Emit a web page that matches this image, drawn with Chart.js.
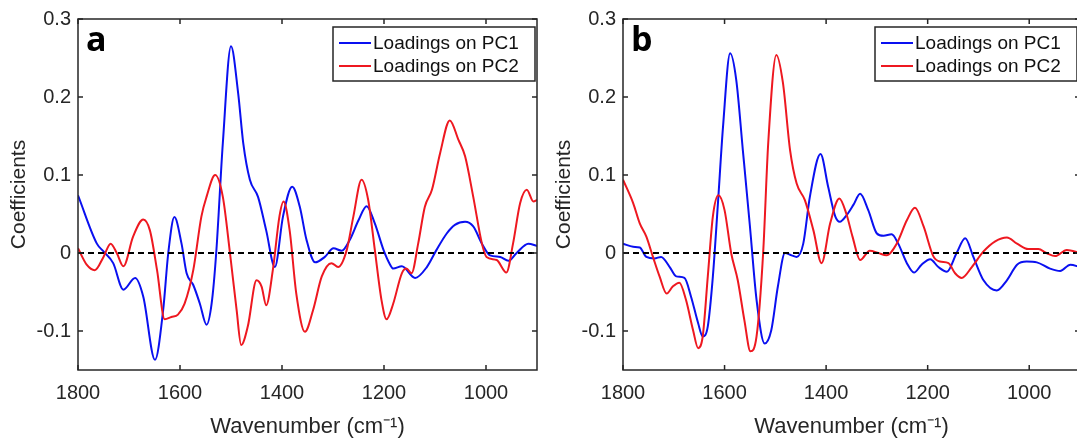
<!DOCTYPE html>
<html>
<head>
<meta charset="utf-8">
<script src="https://cdn.jsdelivr.net/npm/chart.js@4.4.1/dist/chart.umd.min.js"></script>
<style>
	html, body { margin: 0; padding: 0; background: #fff; overflow: hidden; }
	body { width: 1077px; height: 440px; position: relative; }
	.panel { position: absolute; top: 0; height: 440px; }
	#wrapA { left: 0; width: 545px; }
	#wrapB { left: 545px; width: 545px; }
</style>
</head>
<body>
<div class="panel" id="wrapA"><canvas id="chartA" width="545" height="440"></canvas></div>
<div class="panel" id="wrapB"><canvas id="chartB" width="545" height="440"></canvas></div>
<script>
// axis ticks
const xTicks = [1800, 1600, 1400, 1200, 1000]
const yTicks = [-0.1, 0, 0.1, 0.2, 0.3]
const legendLabels = ['Loadings on PC1', 'Loadings on PC2']
const zeroWn = [1800, 900]
const zeroVal = [0, 0]

// panel a - PC1
const aWn1 = [1800, 1763, 1750, 1731, 1711, 1688, 1672, 1649, 1633, 1623, 1611, 1597, 1587, 1574, 1561, 1548, 1538, 1529, 1516, 1500, 1486, 1476, 1463, 1447, 1431, 1414, 1398, 1380, 1365, 1352, 1335, 1316, 1299, 1283, 1267, 1250, 1234, 1218, 1201, 1188, 1182, 1165, 1139, 1116, 1097, 1077, 1061, 1041, 1025, 1008, 992, 972, 956, 940, 917, 900]
const aPc1 = [0.074, 0.012, 0.002, -0.013, -0.047, -0.032, -0.056, -0.137, -0.073, 0, 0.046, 0.012, -0.026, -0.041, -0.065, -0.092, -0.065, 0, 0.141, 0.265, 0.205, 0.141, 0.094, 0.072, 0.029, -0.018, 0.047, 0.085, 0.059, 0.017, -0.012, -0.005, 0.006, 0.003, 0.017, 0.042, 0.060, 0.038, 0.004, -0.015, -0.020, -0.017, -0.032, -0.018, 0.004, 0.025, 0.036, 0.040, 0.034, 0.012, -0.003, -0.005, -0.010, 0, 0.012, 0.009]

// panel a - PC2
const aWn2 = [1800, 1783, 1767, 1750, 1736, 1724, 1711, 1692, 1672, 1659, 1645, 1630, 1617, 1604, 1591, 1574, 1558, 1548, 1531, 1516, 1502, 1489, 1480, 1467, 1450, 1440, 1431, 1418, 1405, 1397, 1385, 1372, 1355, 1339, 1322, 1303, 1290, 1273, 1260, 1244, 1231, 1218, 1205, 1195, 1182, 1165, 1156, 1146, 1133, 1120, 1106, 1090, 1071, 1054, 1041, 1025, 1008, 999, 979, 960, 947, 933, 920, 907, 900]
const aPc2 = [0.006, -0.015, -0.022, -0.005, 0.012, 0, -0.017, 0.021, 0.043, 0.029, -0.022, -0.085, -0.082, -0.079, -0.065, -0.022, 0.047, 0.072, 0.100, 0.072, 0, -0.073, -0.118, -0.094, -0.035, -0.043, -0.067, -0.022, 0.047, 0.066, 0.029, -0.052, -0.101, -0.073, -0.030, -0.013, -0.018, 0.004, 0.047, 0.094, 0.068, 0.004, -0.060, -0.085, -0.065, -0.026, -0.020, -0.026, 0.012, 0.059, 0.081, 0.128, 0.170, 0.145, 0.124, 0.072, 0.012, -0.005, -0.009, -0.025, 0.012, 0.064, 0.081, 0.066, 0.068]

// panel b - PC1
const bWn1 = [1800, 1780, 1767, 1754, 1738, 1725, 1708, 1695, 1679, 1666, 1652, 1643, 1633, 1623, 1613, 1603, 1589, 1577, 1564, 1550, 1537, 1521, 1508, 1495, 1481, 1468, 1458, 1445, 1432, 1411, 1396, 1382, 1373, 1359, 1346, 1333, 1317, 1300, 1287, 1271, 1258, 1241, 1227, 1212, 1195, 1179, 1162, 1143, 1126, 1110, 1090, 1064, 1044, 1024, 1005, 985, 959, 939, 919, 900]
const bPc1 = [0.012, 0.008, 0.007, -0.005, -0.007, -0.005, -0.018, -0.030, -0.032, -0.056, -0.090, -0.107, -0.094, -0.030, 0.064, 0.162, 0.256, 0.222, 0.132, 0.034, -0.060, -0.116, -0.099, -0.043, 0, -0.003, -0.005, 0.012, 0.072, 0.127, 0.085, 0.047, 0.040, 0.049, 0.062, 0.076, 0.055, 0.025, 0.022, 0.024, 0.012, -0.013, -0.025, -0.015, -0.008, -0.018, -0.024, 0, 0.019, -0.005, -0.035, -0.048, -0.035, -0.015, -0.011, -0.012, -0.020, -0.023, -0.015, -0.018]

// panel b - PC2
const bWn2 = [1800, 1780, 1767, 1754, 1741, 1728, 1714, 1702, 1689, 1676, 1662, 1652, 1643, 1633, 1623, 1612, 1600, 1587, 1574, 1561, 1549, 1537, 1524, 1514, 1498, 1485, 1471, 1458, 1442, 1425, 1409, 1392, 1374, 1360, 1348, 1333, 1314, 1297, 1281, 1261, 1241, 1225, 1208, 1189, 1176, 1159, 1146, 1133, 1113, 1090, 1067, 1044, 1024, 1002, 982, 966, 949, 926, 900]
const bPc2 = [0.094, 0.064, 0.038, 0.021, -0.005, -0.030, -0.052, -0.043, -0.038, -0.060, -0.099, -0.122, -0.107, -0.030, 0.047, 0.074, 0.055, 0, -0.035, -0.086, -0.126, -0.107, 0, 0.141, 0.254, 0.218, 0.132, 0.089, 0.068, 0.029, -0.013, 0.038, 0.070, 0.050, 0.021, -0.009, 0.003, 0, -0.003, 0.012, 0.042, 0.058, 0.034, -0.004, -0.011, -0.013, -0.026, -0.032, -0.018, 0.002, 0.015, 0.020, 0.012, 0.005, 0.005, 0, -0.004, 0.004, 0]

const axisColor = '#262626'
const blue = '#0a10f0'
const red = '#ee1820'

const toPoints = (xs, ys) => xs.map((x, i) => ({ x: x, y: ys[i] }))

//frame, inward ticks, legend and panel letter
const framePlugin = {
	id: 'frame',
	afterDatasetsDraw(chart, args, opts) {
		const { ctx, chartArea: a, scales } = chart
		const tl = 5
		ctx.save()
		ctx.strokeStyle = axisColor
		ctx.lineWidth = 1.5
		ctx.strokeRect(a.left, a.top, a.right - a.left, a.bottom - a.top)

		ctx.beginPath()
		for (const v of xTicks) {
			const px = scales.x.getPixelForValue(v)
			ctx.moveTo(px, a.bottom)
			ctx.lineTo(px, a.bottom - tl)
			ctx.moveTo(px, a.top)
			ctx.lineTo(px, a.top + tl)
		}
		for (const v of yTicks) {
			const py = scales.y.getPixelForValue(v)
			ctx.moveTo(a.left, py)
			ctx.lineTo(a.left + tl, py)
			ctx.moveTo(a.right, py)
			ctx.lineTo(a.right - tl, py)
		}
		ctx.stroke()

		//legend box
		const items = chart.data.datasets.filter(ds => ds.label)
		const w = 202
		const h = 54
		const bx = a.right - opts.legendRight - w
		const by = a.top + 8
		ctx.fillStyle = '#fff'
		ctx.fillRect(bx, by, w, h)
		ctx.lineWidth = 1.5
		ctx.strokeRect(bx, by, w, h)
		ctx.font = '19px "Liberation Sans", Arial, sans-serif'
		ctx.textBaseline = 'middle'
		items.forEach((ds, i) => {
			const ly = by + 16 + i * 23
			ctx.strokeStyle = ds.borderColor
			ctx.lineWidth = 2
			ctx.beginPath()
			ctx.moveTo(bx + 6, ly)
			ctx.lineTo(bx + 38, ly)
			ctx.stroke()
			ctx.fillStyle = '#111'
			ctx.fillText(ds.label, bx + 40, ly + 1)
		})

		//panel letter
		ctx.fillStyle = '#000'
		ctx.font = 'bold 34px "Open Sans", "DejaVu Sans", sans-serif'
		ctx.textBaseline = 'alphabetic'
		ctx.fillText(opts.letter, a.left + 8, a.top + 32)
		ctx.restore()
	},
}

const makePanel = (id, letter, wn1, pc1, wn2, pc2, padRight, legendRight) => {
	const ctx = document.querySelector(id).getContext('2d')
	return new Chart(ctx, {
		type: 'line',
		data: {
			datasets: [
				{
					label: legendLabels[0],
					data: toPoints(wn1, pc1),
					borderColor: blue,
					borderWidth: 2,
					pointRadius: 0,
					cubicInterpolationMode: 'monotone',
					order: 2,
				},
				{
					label: legendLabels[1],
					data: toPoints(wn2, pc2),
					borderColor: red,
					borderWidth: 2,
					pointRadius: 0,
					cubicInterpolationMode: 'monotone',
					order: 1,
				},
				{
					label: '',
					data: toPoints(zeroWn, zeroVal),
					borderColor: '#000',
					borderWidth: 2,
					borderDash: [6, 4],
					pointRadius: 0,
					order: 0,
				},
			],
		},
		options: {
			responsive: false,
			animation: false,
			layout: { padding: { left: 0, right: padRight, top: 19, bottom: 0 } },
			plugins: {
				legend: { display: false },
				tooltip: { enabled: false },
				frame: { letter: letter, legendRight: legendRight },
			},
			scales: {
				x: {
					type: 'linear',
					reverse: true,
					min: 900,
					max: 1800,
					afterBuildTicks: s => {
						s.ticks = xTicks.map(v => ({ value: v }))
					},
					afterFit: s => {
						s.height = 70
					},
					grid: { display: false, drawTicks: false },
					border: { display: false },
					ticks: {
						color: axisColor,
						font: { family: '"Liberation Sans", Arial, sans-serif', size: 20 },
						padding: 11,
						maxRotation: 0,
						autoSkip: false,
						callback: v => String(v),
					},
					title: {
						display: true,
						text: 'Wavenumber (cm⁻¹)',
						color: axisColor,
						font: { family: '"Liberation Sans", Arial, sans-serif', size: 22, lineHeight: 1 },
						padding: { top: 0, bottom: 2 },
					},
				},
				y: {
					min: -0.15,
					max: 0.3,
					afterBuildTicks: s => {
						s.ticks = yTicks.map(v => ({ value: v }))
					},
					afterFit: s => {
						s.width = 78
					},
					grid: { display: false, drawTicks: false },
					border: { display: false },
					ticks: {
						color: axisColor,
						font: { family: '"Liberation Sans", Arial, sans-serif', size: 20 },
						padding: 7,
						callback: v => String(+v.toFixed(2)),
					},
					title: {
						display: true,
						text: 'Coefficients',
						color: axisColor,
						font: { family: '"Liberation Sans", Arial, sans-serif', size: 21, lineHeight: 1 },
						padding: { top: 9, bottom: 0 },
					},
				},
			},
		},
		plugins: [framePlugin],
	})
}

makePanel('#chartA', 'a', aWn1, aPc1, aWn2, aPc2, 8, 2)
makePanel('#chartB', 'b', bWn1, bPc1, bWn2, bPc2, 10, 3)
</script>
</body>
</html>
